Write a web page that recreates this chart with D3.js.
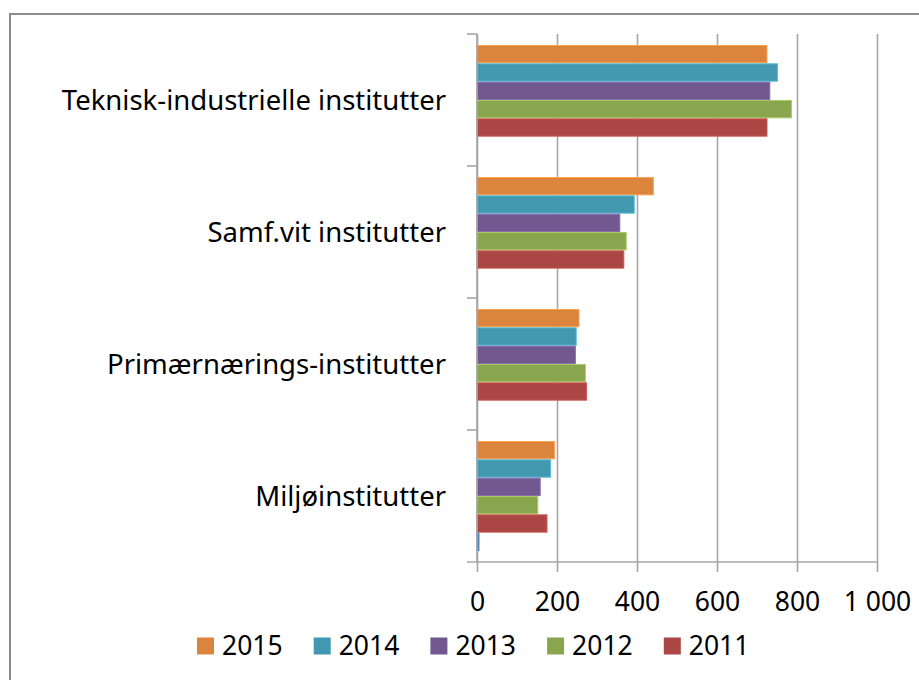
<!DOCTYPE html>
<html>
<head>
<meta charset="utf-8">
<script src="https://cdn.jsdelivr.net/npm/d3@7"></script>
<style>
  body { margin: 0; background: #fff; }
  svg { display: block; font-family: "Noto Sans", sans-serif; }
</style>
</head>
<body>
<svg id="chart" width="919" height="680"></svg>
<script>
var categories = [
  "Teknisk-industrielle institutter",
  "Samf.vit institutter",
  "Primærnærings-institutter",
  "Miljøinstitutter"
];

// series listed top to bottom inside each group
var seriesNames = ["2015", "2014", "2013", "2012", "2011", "blank"];
var values2015 = [725, 441, 255, 194];
var values2014 = [751, 393, 248, 184];
var values2013 = [732, 357, 246, 158];
var values2012 = [786, 373, 271, 152];
var values2011 = [725, 367, 274, 175];
var valuesBlank = [0, 0, 0, 5];

var legendNames = ["2015", "2014", "2013", "2012", "2011"];
var xTicks = [0, 200, 400, 600, 800, 1000];

var colors = {
  "2015": "#DB843D",
  "2014": "#4198AF",
  "2013": "#71588F",
  "2012": "#89A54E",
  "2011": "#AA4643",
  "blank": "#4572A7"
};

var seriesValues = {
  "2015": values2015,
  "2014": values2014,
  "2013": values2013,
  "2012": values2012,
  "2011": values2011,
  "blank": valuesBlank
};

var svg = d3.select("#chart");

// outer chart frame (runs off the right and bottom edge)
svg.append("rect")
  .attr("x", 10).attr("y", 14)
  .attr("width", 940).attr("height", 700)
  .attr("fill", "none")
  .attr("stroke", "#8c8c8c")
  .attr("stroke-width", 2);

var plotLeft = 477, plotRight = 877, plotTop = 34, plotBottom = 562;

var x = d3.scaleLinear().domain([0, 1000]).range([plotLeft, plotRight]);
var y = d3.scaleBand().domain(categories).range([plotTop, plotBottom]).padding(0);
var yInner = d3.scaleBand().domain(seriesNames).range([0, y.bandwidth()])
  .paddingInner(0).paddingOuter(0.6);

var locale = d3.formatLocale({ decimal: ",", thousands: "\u00a0", grouping: [3], currency: ["", " kr"] });
var fmt = locale.format(",d");

// gridlines
svg.append("g")
  .attr("transform", "translate(0," + plotBottom + ")")
  .call(d3.axisBottom(x).tickValues(xTicks).tickSize(-(plotBottom - plotTop)).tickFormat(""))
  .call(function(g) {
    g.select(".domain").remove();
    g.selectAll("line").attr("stroke", "#a6a6a6").attr("stroke-width", 1.6);
  });

// bars
var rows = [];
categories.forEach(function(cat, i) {
  seriesNames.forEach(function(s) {
    rows.push({ cat: cat, series: s, value: seriesValues[s][i] });
  });
});

svg.append("g").selectAll("rect")
  .data(rows.filter(function(d) { return d.value > 0; }))
  .enter()
  .append("rect")
  .attr("x", x(0))
  .attr("y", function(d) { return y(d.cat) + yInner(d.series) + 0.5; })
  .attr("width", function(d) { return x(d.value) - x(0); })
  .attr("height", yInner.bandwidth() - 1)
  .attr("fill", function(d) { return colors[d.series]; })
  .attr("stroke", function(d) { return d3.color(colors[d.series]).brighter(0.6); })
  .attr("stroke-width", 1);

// x axis
svg.append("g")
  .attr("transform", "translate(0," + plotBottom + ")")
  .call(d3.axisBottom(x).tickValues(xTicks).tickSize(10).tickPadding(20).tickFormat(fmt))
  .call(function(g) {
    g.select(".domain").attr("stroke", "#a6a6a6").attr("stroke-width", 1.6)
      .attr("d", "M" + (plotLeft - 10) + ",0H" + plotRight);
    g.selectAll("line").attr("stroke", "#a6a6a6").attr("stroke-width", 1.6);
    g.selectAll("text").attr("font-size", 26.5).attr("fill", "#000")
      .attr("font-family", "Noto Sans");
  });

// y axis: line, ticks at band edges, labels at band centres
var yAxis = svg.append("g");
yAxis.append("line")
  .attr("x1", plotLeft).attr("x2", plotLeft)
  .attr("y1", plotTop).attr("y2", plotBottom)
  .attr("stroke", "#a6a6a6").attr("stroke-width", 1.6);

yAxis.selectAll(".edge")
  .data(categories)
  .enter()
  .append("line")
  .attr("class", "edge")
  .attr("x1", plotLeft - 10).attr("x2", plotLeft)
  .attr("y1", function(d) { return y(d); })
  .attr("y2", function(d) { return y(d); })
  .attr("stroke", "#a6a6a6").attr("stroke-width", 1.6);

yAxis.selectAll("text")
  .data(categories)
  .enter()
  .append("text")
  .attr("x", plotLeft - 31)
  .attr("y", function(d) { return y(d) + y.bandwidth() / 2; })
  .attr("dy", "0.35em")
  .attr("text-anchor", "end")
  .attr("font-size", 27.5)
  .attr("fill", "#000")
  .text(function(d) { return d; });

// legend
var legend = svg.append("g").attr("transform", "translate(197,646)");
var item = legend.selectAll("g")
  .data(legendNames)
  .enter()
  .append("g")
  .attr("transform", function(d, i) { return "translate(" + (i * 116.7) + ",0)"; });

item.append("rect")
  .attr("x", 0).attr("y", -8.5)
  .attr("width", 17).attr("height", 17)
  .attr("fill", function(d) { return colors[d]; });

item.append("text")
  .attr("x", 25)
  .attr("dy", "0.35em")
  .attr("font-size", 26.5)
  .attr("fill", "#000")
  .text(function(d) { return d; });
</script>
</body>
</html>
